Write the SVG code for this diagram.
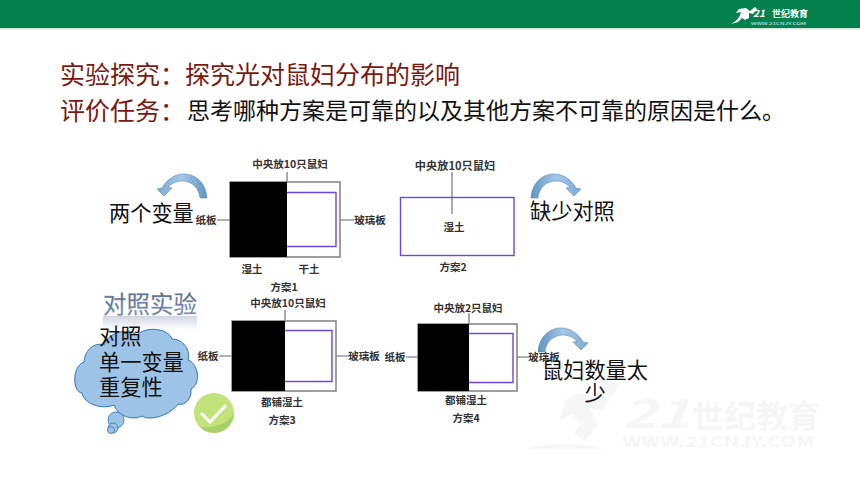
<svg xmlns="http://www.w3.org/2000/svg" width="860" height="484" viewBox="0 0 860 484">
<defs>
<style>
text{font-family:"Noto Sans CJK SC","Noto Sans",sans-serif}
.h{font-size:25px;fill:#7b1a10}
.b{font-size:23px;fill:#111}
.s{font-size:10.500px;font-weight:700;fill:#333;text-anchor:middle}
.c{font-size:21.200px;fill:#111}
.box{fill:#fff;stroke:#777;stroke-width:1.4}
.blk{fill:#000}
.pur{fill:none;stroke:#6a48e0;stroke-width:1.4}
.ln{fill:none;stroke:#666;stroke-width:1.1}
.arc{fill:url(#arcG);stroke:#5b8db8;stroke-width:.6}
.wm{fill:#f6f6f6}
</style>
<linearGradient id="arcG" x1="0" y1="0" x2="1" y2="0"><stop offset="0" stop-color="#5f94c0"/><stop offset=".5" stop-color="#a5c8e6"/><stop offset="1" stop-color="#7cabd2"/></linearGradient>
<linearGradient id="fade" x1="0" y1="0" x2="0" y2="1"><stop offset="0" stop-color="#3c5478"/><stop offset="1" stop-color="#7d90ad"/></linearGradient>
<linearGradient id="refl" x1="0" y1="0" x2="0" y2="1"><stop offset="0" stop-color="#aab6c8" stop-opacity=".55"/><stop offset="1" stop-color="#aab6c8" stop-opacity="0"/></linearGradient>
<path id="curve" d="M0 24C1 9 11 0 23 0C32 0 40 5 45 14L50 15L43 22L35 14L39 13C35 9 30 7 25 7C15 7 8 14 7 24Z"/>
</defs>
<rect width="860" height="484" fill="#fff"/>
<g id="header">
<rect width="860" height="28" fill="#03814c"/>
<rect y="28" width="860" height="1.500" fill="#d8e6df"/>
<path d="M731 24C737 21 740 17 741 12L736 13L739 9L746 8L750 11L755 7L757 9L753 14L749 13L749 18L745 20L742 18L738 22Z" fill="#fff"/>
<text x="753" y="17" font-size="10" font-weight="700" font-style="italic" fill="#fff">21</text>
<text x="772" y="17" font-size="9" font-weight="700" fill="#fff">世纪教育</text>
<text x="751" y="24.500" font-size="4" fill="#dff" textLength="55" lengthAdjust="spacingAndGlyphs">WWW.21CNJY.COM</text>
</g>
<g id="watermark">
<path class="wm" d="M530 447C552 444 568 443 590 446L604 449L530 449ZM565 402C572 392 584 392 590 397L612 381L620 385L602 410L590 408L598 424L585 441L574 433L581 424L572 414L560 420Z"/>
<text x="622" y="428" font-size="40" font-weight="700" font-style="italic" fill="#f6f6f6" textLength="68" lengthAdjust="spacingAndGlyphs">21</text>
<text x="692" y="428" font-size="32" font-weight="700" fill="#f6f6f6" textLength="128" lengthAdjust="spacingAndGlyphs">世纪教育</text>
<text x="622" y="447" font-size="14" font-weight="700" fill="#f6f6f6" textLength="192" lengthAdjust="spacingAndGlyphs">WWW.21CNJY.COM</text>
</g>
<g id="title">
<text class="h" x="60" y="84">实验探究：探究光对鼠妇分布的影响</text>
<text class="h" x="60" y="120">评价任务：</text>
<text class="b" x="187" y="119">思考哪种方案是可靠的以及其他方案不可靠的原因是什么。</text>
</g>
<g id="connectors">
<path class="ln" d="M287 172V182M217 220H230M340 220H354M452 172V214M285 310V321M219 356H232M336 356H349M469 313V324M406 357H418M517 357H529"/>
</g>
<g id="scheme1">
<rect class="box" x="230" y="182" width="110" height="75"/>
<rect class="blk" x="230" y="182" width="57" height="75"/>
<path class="pur" d="M287 192.500H336V246.500H287"/>
<text class="s" x="290" y="168">中央放10只鼠妇</text>
<text class="s" x="206" y="224">纸板</text>
<text class="s" x="370" y="224">玻璃板</text>
<text class="s" x="252" y="273">湿土</text>
<text class="s" x="309" y="273">干土</text>
<text class="s" x="284" y="291">方案1</text>
</g>
<g id="scheme2">
<rect x="400.500" y="197.500" width="113.500" height="58" fill="none" stroke="#6a48e0" stroke-width="1.400"/>
<text class="s" x="455" y="170" style="font-size:11.200px">中央放10只鼠妇</text>
<text class="s" x="454" y="231">湿土</text>
<text class="s" x="453" y="271">方案2</text>
</g>
<g id="scheme3">
<rect class="box" x="232" y="321" width="104" height="70"/>
<rect class="blk" x="232" y="321" width="53" height="70"/>
<path class="pur" d="M285 330.500H332V381.500H285"/>
<text class="s" x="288" y="307">中央放10只鼠妇</text>
<text class="s" x="208" y="360">纸板</text>
<text class="s" x="364" y="360">玻璃板</text>
<text class="s" x="282" y="406">都铺湿土</text>
<text class="s" x="282" y="424">方案3</text>
</g>
<g id="scheme4">
<rect class="box" x="418" y="324" width="99" height="67"/>
<rect class="blk" x="418" y="324" width="51" height="67"/>
<path class="pur" d="M469 333.500H513V382.500H469"/>
<text class="s" x="468" y="312">中央放2只鼠妇</text>
<text class="s" x="395" y="361">纸板</text>
<text class="s" x="544" y="361">玻璃板</text>
<text class="s" x="466" y="404">都铺湿土</text>
<text class="s" x="466" y="422">方案4</text>
</g>
<g id="arrow-left">
<use href="#curve" class="arc" transform="translate(207 174) scale(-1 1)"/>
<text class="c" x="109" y="221">两个变量</text>
</g>
<g id="arrow-right">
<use href="#curve" class="arc" transform="translate(531 174)"/>
<text class="c" x="530" y="219">缺少对照</text>
</g>
<g id="arrow-few">
<use href="#curve" class="arc" transform="translate(538 328)"/>
<text class="c" x="595" y="378" text-anchor="middle">鼠妇数量太</text>
<text class="c" x="595" y="401" text-anchor="middle">少</text>
</g>
<g id="cloud">
<text x="103" y="313" font-size="23.500" fill="url(#fade)" stroke="#9fb0c8" stroke-width=".3">对照实验</text>
<rect x="103" y="316" width="94" height="14" fill="url(#refl)"/>
<path d="M84 362C85 349 95 342 104 345C107 333 128 327 137 335C146 326 168 328 172 339C183 339 191 350 188 360C199 364 201 384 191 389C192 400 184 406 178 404C172 414 150 422 142 416C132 421 118 416 114 405C102 410 84 404 82 393C72 392 72 366 84 362Z" fill="#9dc3e6" stroke="#2e75b6" stroke-width="1"/>
<circle cx="116" cy="420" r="8" fill="#9dc3e6" stroke="#2e75b6" stroke-width=".8"/>
<circle cx="113" cy="428" r="5" fill="#9dc3e6" stroke="#2e75b6" stroke-width=".8"/>
<circle cx="111" cy="430" r="3.500" fill="#9dc3e6" stroke="#2e75b6" stroke-width=".8"/>
<text class="c" x="99" y="344">对照</text>
<text class="c" x="99" y="370">单一变量</text>
<text class="c" x="99" y="395">重复性</text>
</g>
<g id="check">
<circle cx="214" cy="413" r="20" fill="#c2e27a"/>
<path d="M200 427A20 20 0 0 0 234 413C228 425 212 428 200 427Z" fill="#a8d068"/>
<path d="M201 413L210 422L226 405" fill="none" stroke="#fff" stroke-width="3"/>
</g>
</svg>
